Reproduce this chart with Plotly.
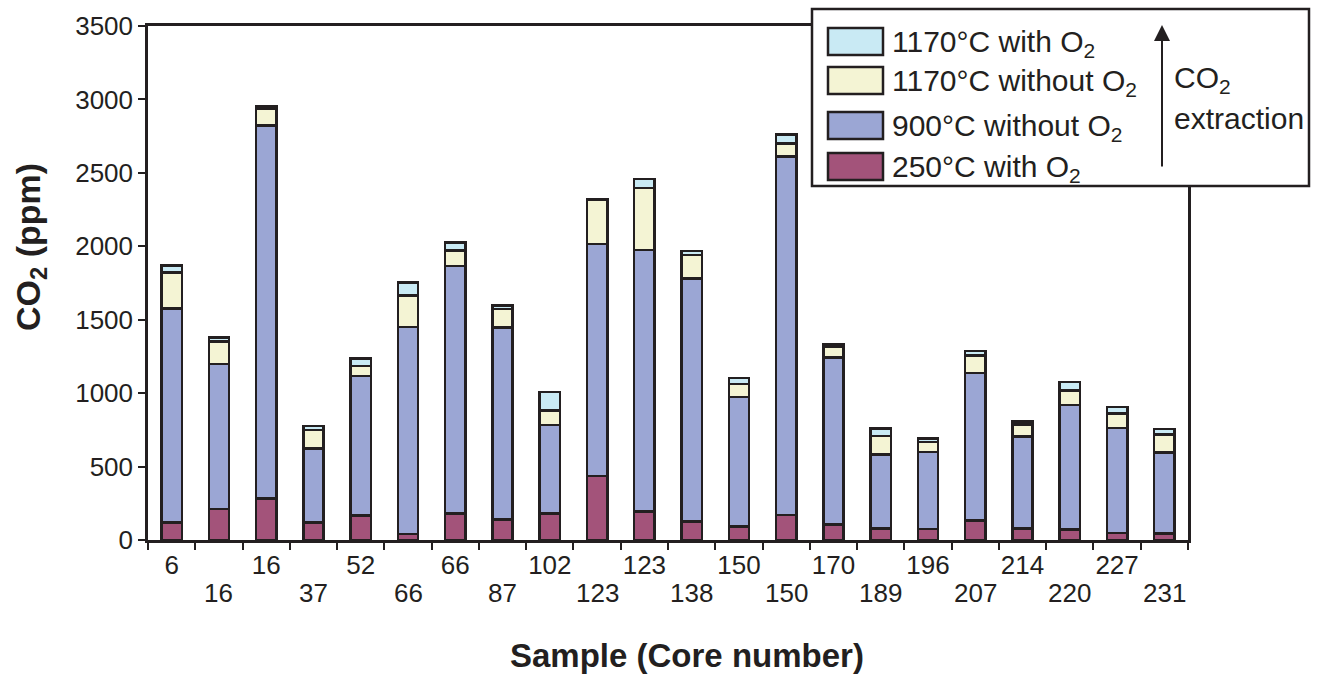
import plotly.graph_objects as go

# ---- data ----
samples = ["6", "16", "16", "37", "52", "66", "66", "87", "102", "123", "123",
           "138", "150", "150", "170", "189", "196", "207", "214", "220", "227", "231"]
series_names = ["250°C with O<sub>2</sub>", "900°C without O<sub>2</sub>",
                "1170°C without O<sub>2</sub>", "1170°C with O<sub>2</sub>"]
co2_250_with_o2 = [118, 211, 284, 118, 166, 41, 182, 141, 182, 436, 193,
                   125, 91, 170, 107, 80, 75, 132, 77, 73, 48, 45]
co2_900_without_o2 = [1460, 988, 2538, 504, 951, 1409, 1684, 1305, 601, 1580, 1782,
                      1655, 883, 2440, 1137, 501, 524, 1005, 627, 846, 715, 552]
co2_1170_without_o2 = [245, 152, 114, 127, 68, 214, 107, 127, 98, 304, 422,
                       161, 88, 89, 73, 127, 68, 121, 84, 98, 97, 120]
co2_1170_with_o2 = [45, 29, 15, 27, 50, 88, 52, 23, 127, 0, 61,
                    27, 41, 61, 18, 50, 25, 29, 20, 59, 46, 39]
y_ticks = [0, 500, 1000, 1500, 2000, 2500, 3000, 3500]

# ---- styling ----
colors = ["#A3537A", "#9BA6D4", "#F4F4D4", "#C9EAF4"]
ink = "#231F20"
font_family = "Liberation Sans, Arial, sans-serif"

W, H = 1329, 675
L, R, T, B = 148, 1188, 26, 540


def px(xp):
    return (xp - L) / (R - L)


def py(yp):
    return (B - yp) / (B - T)


x_pos = list(range(len(samples)))
fig = go.Figure()
for name, vals, col in zip(series_names,
                           [co2_250_with_o2, co2_900_without_o2, co2_1170_without_o2, co2_1170_with_o2],
                           colors):
    fig.add_trace(go.Bar(x=x_pos, y=vals, name=name,
                         marker=dict(color=col, line=dict(color=ink, width=2.5)),
                         showlegend=False))

top_idx = [i for i in x_pos if i % 2 == 0]
bottom_idx = [i for i in x_pos if i % 2 == 1]

fig.update_layout(
    width=W, height=H,
    margin=dict(l=L, r=W - R, t=T, b=H - B, pad=0),
    barmode="stack", bargap=0.57,
    plot_bgcolor="white", paper_bgcolor="white",
    font=dict(family=font_family, size=26, color=ink),
    xaxis=dict(range=[-0.5, len(samples) - 0.5], tickmode="array", tickvals=top_idx,
               ticktext=[samples[i] for i in top_idx],
               ticks="", showgrid=False, zeroline=False, showline=True, linecolor=ink, linewidth=2.5,
               mirror=True, tickfont=dict(size=26, color=ink),
               minor=dict(tickmode="array", tickvals=[i - 0.5 for i in range(len(samples) + 1)],
                          ticks="outside", ticklen=7, tickwidth=1.5, tickcolor=ink, showgrid=False)),
    yaxis=dict(range=[0, 3500], tickmode="array", tickvals=y_ticks, ticks="outside", ticklen=7,
               tickwidth=1.5, tickcolor=ink, showgrid=False, zeroline=False, showline=True,
               linecolor=ink, linewidth=2.5, mirror=True, tickfont=dict(size=26, color=ink)),
)

shapes = []
annotations = []
# second row of sample labels
for i in bottom_idx:
    annotations.append(dict(xref="x", yref="paper", x=i, y=py(593), text=samples[i], showarrow=False,
                            xanchor="center", yanchor="middle", font=dict(size=26, color=ink)))
# legend box
shapes.append(dict(type="rect", xref="paper", yref="paper", x0=px(812), x1=px(1309), y0=py(186), y1=py(9),
                   fillcolor="white", line=dict(color=ink, width=2.5), layer="above"))
legend_order = [3, 2, 1, 0]
sw_rows = [(28, 55), (67, 94), (112, 139), (153, 180)]
for (y0, y1), k in zip(sw_rows, legend_order):
    shapes.append(dict(type="rect", xref="paper", yref="paper", x0=px(828), x1=px(883), y0=py(y1), y1=py(y0),
                       fillcolor=colors[k], line=dict(color=ink, width=2.5), layer="above"))
    annotations.append(dict(xref="paper", yref="paper", x=px(890), y=py((y0 + y1) / 2 + 2), text=series_names[k],
                            showarrow=False, xanchor="left", yanchor="middle", font=dict(size=30, color=ink)))
# arrow
annotations.append(dict(xref="paper", yref="paper", x=px(1162), y=py(25), ax=0, ay=143, text="",
                        showarrow=True, arrowhead=2, arrowsize=1.6, arrowwidth=2, arrowcolor=ink))
annotations.append(dict(xref="paper", yref="paper", x=px(1172), y=py(80), text="CO<sub>2</sub>",
                        showarrow=False, xanchor="left", yanchor="middle", font=dict(size=30, color=ink)))
annotations.append(dict(xref="paper", yref="paper", x=px(1172), y=py(118), text="extraction",
                        showarrow=False, xanchor="left", yanchor="middle", font=dict(size=30, color=ink)))
# axis titles
annotations.append(dict(xref="paper", yref="paper", x=px(687), y=py(655), text="<b>Sample (Core number)</b>",
                        showarrow=False, xanchor="center", yanchor="middle", font=dict(size=33, color=ink)))
annotations.append(dict(xref="paper", yref="paper", x=px(30), y=py(247), text="<b>CO<sub>2</sub> (ppm)</b>",
                        showarrow=False, xanchor="center", yanchor="middle", textangle=-90,
                        font=dict(size=34, color=ink)))

fig.update_layout(shapes=shapes, annotations=annotations)
fig.write_html("out.html", config={"displayModeBar": False},
               post_script="document.body.style.margin='0';")
